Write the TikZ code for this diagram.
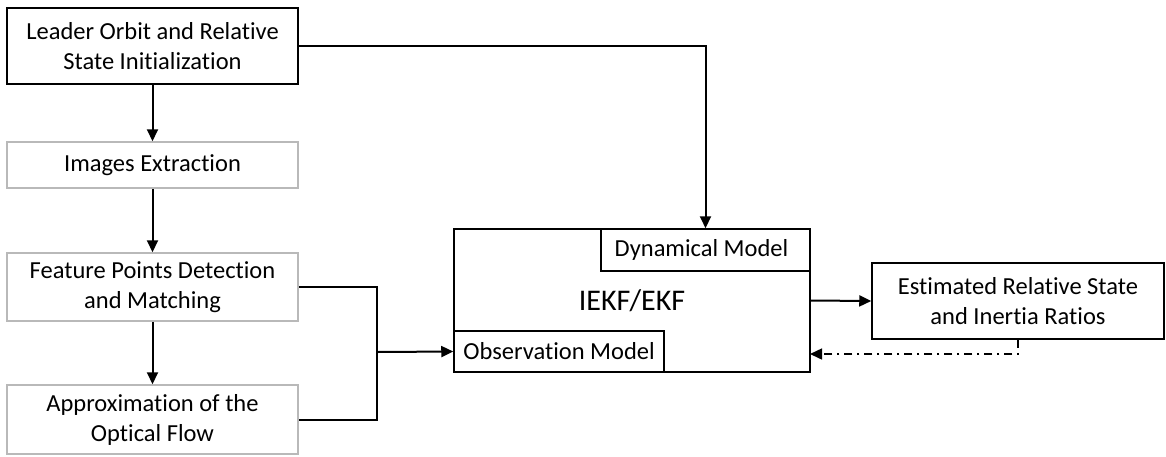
\documentclass[tikz,border=0pt]{standalone}
\usepackage{fontspec}
\setmainfont{Carlito}[Ligatures={NoCommon}]
\usetikzlibrary{arrows.meta}
\definecolor{lgray}{RGB}{185,185,185}
\begin{document}
\begin{tikzpicture}[x=1pt,y=-1pt,
  txt/.style={font=\fontsize{24.5}{30}\selectfont, align=center, inner sep=0pt},
  bbox/.style={txt, draw=black, line width=1.5pt},
  gbox/.style={txt, draw=lgray, line width=1.5pt},
  arr/.style={line width=2pt, -{Triangle[length=12pt,width=11pt]}},
  ln/.style={line width=2pt},
  dd/.style={line width=1.5pt, dash pattern=on 8pt off 5pt on 2pt off 5pt, -{Triangle[length=12pt,width=11pt]}}]
\useasboundingbox (0,0) rectangle (1166,456);
\node[bbox, minimum width=291, minimum height=76] (lead) at (152.5,46) {Leader Orbit and Relative\\State Initialization};
\node[gbox, minimum width=291, minimum height=46] (img) at (152.5,165) {Images Extraction};
\node[gbox, minimum width=291, minimum height=68] (feat) at (152.5,287) {Feature Points Detection\\and Matching};
\node[gbox, minimum width=291, minimum height=69] (appr) at (152.5,419.5) {Approximation of the\\Optical Flow};
\node[bbox, minimum width=356, minimum height=143, font=\fontsize{30}{34}\selectfont] (iekf) at (632,300.5) {IEKF/EKF};
\node[bbox, minimum width=209, minimum height=42] (dyn) at (705.5,250) {Dynamical Model\hspace{8pt}};
\node[bbox, minimum width=210, minimum height=41] (obs) at (559,351.5) {Observation Model};
\node[bbox, minimum width=292, minimum height=76] (est) at (1018,301) {Estimated Relative State\\and Inertia Ratios};
\coordinate (j) at (377,352);
\coordinate (fb) at (810,354);
\draw[arr] (lead) -- (img);
\draw[arr] (img) -- (feat);
\draw[arr] (feat) -- (appr);
\draw[arr] (lead.east) -| (dyn.north);
\draw[ln] (feat.east) -| (j) |- (appr.east);
\draw[arr] (j) -- (obs.west);
\draw[arr] (iekf.east) -- (est.west);
\draw[dd] (est.south) |- (fb);
\end{tikzpicture}
\end{document}
